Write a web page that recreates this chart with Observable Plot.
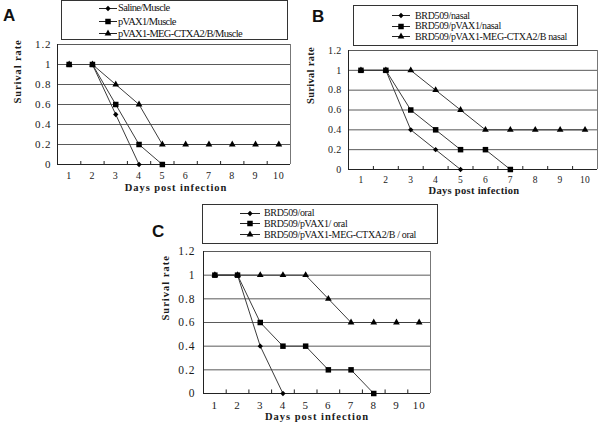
<!DOCTYPE html>
<html><head><meta charset="utf-8">
<script src="https://cdn.jsdelivr.net/npm/d3@7"></script>
<script src="https://cdn.jsdelivr.net/npm/@observablehq/plot@0.6"></script>
<style>
body{margin:0;background:#fff;}
#root{position:relative;width:600px;height:422px;overflow:hidden;background:#fff;}
.panel{position:absolute;}
.legend{position:absolute;border:1px solid #333;box-sizing:border-box;}
.row{position:absolute;white-space:nowrap;display:flex;align-items:center;height:12px;color:#111;}
.letter{position:absolute;font-family:"Liberation Sans",Arial,sans-serif;font-weight:bold;font-size:17px;line-height:17px;color:#111;}
</style></head><body><div id="root"></div>
<script>
// ---- data ----
const days = [1,2,3,4,5,6,7,8,9,10];
const yTicks = [0,0.2,0.4,0.6,0.8,1,1.2];
const xTitle = "Days post infection";
const yTitle = "Surival rate";
const panelLetters = ["A","B","C"];

const namesA = ["Saline/Muscle","pVAX1/Muscle","pVAX1-MEG-CTXA2/B/Muscle"];
const salineA = [1,1,0.5,0];
const pvaxA = [1,1,0.6,0.2,0];
const megA = [1,1,0.8,0.6,0.2,0.2,0.2,0.2,0.2,0.2];

const namesB = ["BRD509/nasal","BRD509/pVAX1/nasal","BRD509/pVAX1-MEG-CTXA2/B nasal"];
const brdB = [1,1,0.4,0.2,0];
const pvaxB = [1,1,0.6,0.4,0.2,0.2,0];
const megB = [1,1,1,0.8,0.6,0.4,0.4,0.4,0.4,0.4];

const namesC = ["BRD509/oral","BRD509/pVAX1/ oral","BRD509/pVAX1-MEG-CTXA2/B / oral"];
const brdC = [1,1,0.4,0];
const pvaxC = [1,1,0.6,0.4,0.4,0.2,0.2,0];
const megC = [1,1,1,1,1,0.8,0.6,0.6,0.6,0.6];

const symbols = ["diamond2","square","triangle"];
const radii = [2.4,3.1,2.5];
const SERIF = "'Liberation Serif', 'DejaVu Serif', serif";

// text width helper (used to fit letter-spacing to the reference widths)
const ctx = document.createElement("canvas").getContext("2d");
function measure(text, family, size, weight) {
  ctx.font = `${weight || "normal"} ${size}px ${family}`;
  return ctx.measureText(text).width;
}
function fitLS(text, family, size, weight, target) {
  return (target - measure(text, family, size, weight)) / text.length;
}

// ---- layout ----
const root = document.getElementById("root");

function panel(series, cfg) {
  const data = series.flatMap((vals, i) => vals.map((v, j) => ({day: days[j], rate: v, s: i})));
  const bounds = days.slice(1).map(d => d - 0.5);
  const first = days[0] - 0.5, last = days[days.length-1] + 0.5;
  const plot = Plot.plot({
    width: cfg.w, height: cfg.h,
    marginLeft: cfg.ml, marginRight: cfg.mr, marginTop: cfg.mt, marginBottom: cfg.mb,
    style: {background: "transparent", overflow: "visible"},
    x: {domain: [first, last], label: null},
    y: {domain: [yTicks[0], yTicks[yTicks.length-1]], label: null},
    marks: [
      Plot.ruleY(yTicks.slice(1), {stroke: "#5a5a5a", strokeWidth: 1}),
      Plot.ruleX([last], {stroke: "#777"}),
      Plot.ruleX(bounds, {y1: 0, y2: 0.03, stroke: "#222"}),
      Plot.ruleY([0], {stroke: "#222"}),
      Plot.ruleX([first], {stroke: "#222"}),
      Plot.axisX(days, {tickSize: 0, tickPadding: cfg.xpad, tickFormat: d => String(d), label: null, fontSize: cfg.fs}),
      Plot.axisY(yTicks, {tickSize: 0, tickPadding: cfg.ypad, tickFormat: d3.format("~g"), label: null, fontSize: cfg.yfs}),
      Plot.line(data, {x: "day", y: "rate", z: "s", stroke: "#3c3c3c", strokeWidth: 1}),
      ...symbols.map((sym, i) => Plot.dot(data.filter(d => d.s === i), {x: "day", y: "rate", symbol: sym, r: radii[i], fill: "#000", stroke: "none"})),
      Plot.text([xTitle], {text: d => d, frameAnchor: "bottom", lineAnchor: "bottom", dx: cfg.tdx, dy: cfg.tdy, fontWeight: "bold", fontSize: cfg.tfs, fill: "#111", ariaLabel: "xtitle"}),
      Plot.text([yTitle], {text: d => d, frameAnchor: "left", rotate: -90, dx: cfg.ydx, dy: cfg.ydy, fontWeight: "bold", fontSize: cfg.tfs, fill: "#111", ariaLabel: "ytitle"})
    ]
  });
  const s = d3.select(plot);
  s.selectAll("text").style("font-family", SERIF).attr("fill", "#1a1a1a").style("letter-spacing", cfg.tls + "px");
  s.selectAll('g[aria-label="xtitle"] text').style("letter-spacing", fitLS(xTitle, SERIF, cfg.tfs, "bold", cfg.xtw) + "px");
  s.selectAll('g[aria-label="ytitle"] text').style("letter-spacing", fitLS(yTitle, SERIF, cfg.tfs, "bold", cfg.ytw) + "px");
  plot.classList.add("panel");
  plot.style.left = cfg.left + "px";
  plot.style.top = cfg.top + "px";
  root.appendChild(plot);
}

function legend(names, cfg) {
  const box = document.createElement("div");
  box.className = "legend";
  Object.assign(box.style, {left: cfg.bx + "px", top: cfg.by + "px", width: cfg.bw + "px", height: cfg.bh + "px"});
  root.appendChild(box);
  const longest = names[names.length - 1];
  const ls = fitLS(longest, cfg.font, cfg.fs, "normal", cfg.tw);
  names.forEach((name, i) => {
    const row = document.createElement("div");
    row.className = "row";
    Object.assign(row.style, {left: cfg.sx + "px", top: (cfg.rows[i] - 6) + "px", fontFamily: cfg.font, fontSize: cfg.fs + "px", letterSpacing: ls + "px"});
    const svg = d3.create("svg").attr("width", cfg.sw).attr("height", 12).style("display", "block").style("overflow", "visible");
    svg.append("line").attr("x1", 0).attr("x2", cfg.sw).attr("y1", 6.5).attr("y2", 6.5).attr("stroke", "#222");
    svg.append("path").attr("transform", `translate(${cfg.sw/2},6.5)`)
      .attr("d", d3.symbol(symbols[i] === "diamond2" ? d3.symbolDiamond2 : symbols[i] === "square" ? d3.symbolSquare : d3.symbolTriangle, Math.PI * radii[i] * radii[i])())
      .attr("fill", "#000");
    row.appendChild(svg.node());
    const span = document.createElement("span");
    span.textContent = name;
    span.style.marginLeft = cfg.gap + "px";
    row.appendChild(span);
    root.appendChild(row);
  });
}

function letter(t, x, y) {
  const d = document.createElement("div");
  d.className = "letter";
  d.textContent = t;
  d.style.left = x + "px";
  d.style.top = y + "px";
  root.appendChild(d);
}

panel([salineA, pvaxA, megA], {left: 0, top: 36, w: 293, h: 160, ml: 57, mr: 3, mt: 8, mb: 32, fs: 10, yfs: 11, tls: 0.9, tfs: 10.5, xpad: 7.5, ypad: 6, tdx: 2, tdy: 26, ydx: -40, ydy: -1, xtw: 102, ytw: 66});
panel([brdB, pvaxB, megB], {left: 300, top: 40, w: 300, h: 160, ml: 48, mr: 3, mt: 10, mb: 31, fs: 9.5, yfs: 10, tls: 0.3, tfs: 10.5, xpad: 6.5, ypad: 7, tdx: 1, tdy: 24.5, ydx: -38, ydy: -6, xtw: 103, ytw: 59});
panel([brdC, pvaxC, megC], {left: 150, top: 244, w: 285, h: 178, ml: 53, mr: 5, mt: 7, mb: 29, fs: 11, yfs: 11.5, tls: 1, tfs: 10.5, xpad: 8, ypad: 8, tdx: 0, tdy: 26, ydx: -37.5, ydy: -2, xtw: 101, ytw: 65});

legend(namesA, {bx: 61, by: 0, bw: 227, bh: 40, sx: 99, sw: 18, gap: 1, rows: [7.5, 21, 33], font: SERIF, fs: 10.5, tw: 124});
legend(namesB, {bx: 353, by: 5, bw: 225, bh: 41, sx: 392, sw: 18, gap: 5, rows: [15, 25.5, 36], font: SERIF, fs: 10, tw: 152});
legend(namesC, {bx: 202, by: 204, bw: 236, bh: 40, sx: 240, sw: 20, gap: 4, rows: [212.7, 223.3, 234.3], font: SERIF, fs: 10, tw: 152});

letter(panelLetters[0], 3, 7);
letter(panelLetters[1], 312, 8);
letter(panelLetters[2], 152, 223);
</script></body></html>
